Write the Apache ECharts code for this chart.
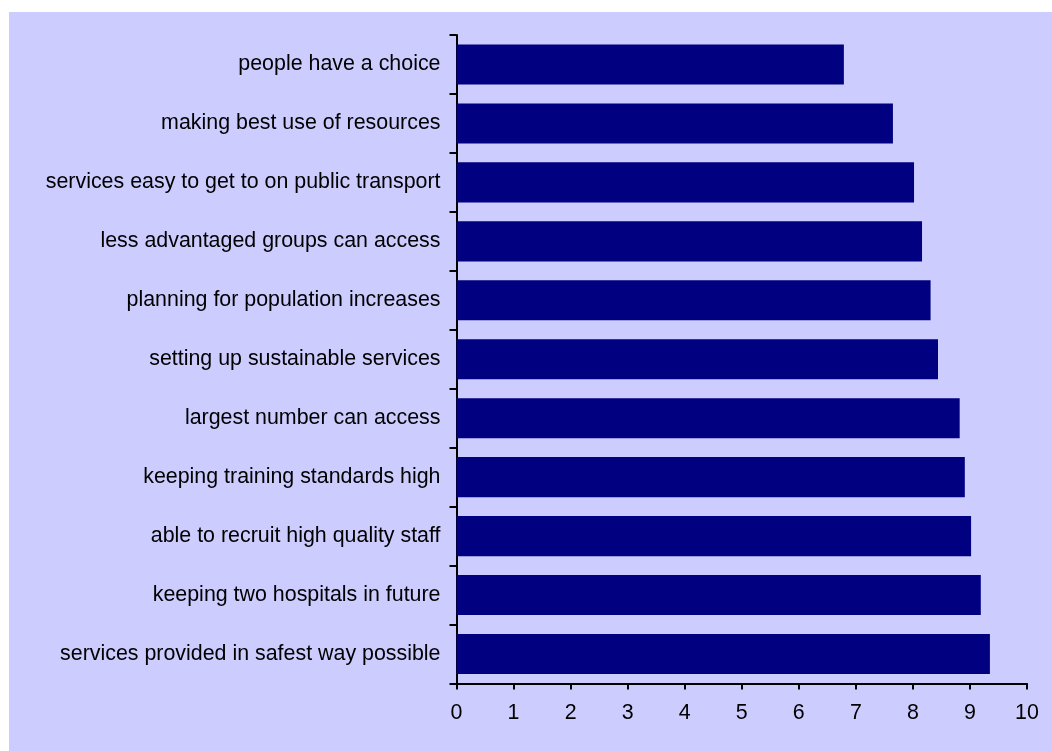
<!DOCTYPE html>
<html>
<head>
<meta charset="utf-8">
<script src="https://cdn.jsdelivr.net/npm/echarts@6/dist/echarts.min.js"></script>
<style>
  html, body { margin: 0; padding: 0; background: #ffffff; }
  #chart { position: absolute; left: 9px; top: 12px; width: 1043px; height: 739px; background: #ccccff; }
</style>
</head>
<body>
<div id="chart"></div>
<script>
// categories listed top to bottom as they appear
const categories = [
  'people have a choice',
  'making best use of resources',
  'services easy to get to on public transport',
  'less advantaged groups can access',
  'planning for population increases',
  'setting up sustainable services',
  'largest number can access',
  'keeping training standards high',
  'able to recruit high quality staff',
  'keeping two hospitals in future',
  'services provided in safest way possible'
];
const scores = [6.79, 7.65, 8.02, 8.16, 8.31, 8.44, 8.82, 8.91, 9.02, 9.19, 9.35];
const xTicks = { min: 0, max: 10, interval: 1 };

const chart = echarts.init(document.getElementById('chart'));
const font = '"Liberation Sans", Arial, sans-serif';

chart.setOption({
  backgroundColor: '#ccccff',
  animation: false,
  grid: { left: 447.5, top: 23, right: 25, bottom: 67.5, containLabel: false },
  xAxis: {
    type: 'value',
    min: xTicks.min,
    max: xTicks.max,
    interval: xTicks.interval,
    axisLine: { show: true, lineStyle: { color: '#000', width: 2 } },
    axisTick: { show: true, length: 6, lineStyle: { color: '#000', width: 2 } },
    splitLine: { show: false },
    axisLabel: { color: '#000', fontSize: 21.4, fontFamily: font, margin: 19 }
  },
  yAxis: {
    type: 'category',
    data: categories,
    inverse: true,
    axisLine: { show: true, lineStyle: { color: '#000', width: 2 } },
    axisTick: { show: true, length: 7, lineStyle: { color: '#000', width: 2 } },
    axisLabel: { color: '#000', fontSize: 21.4, fontFamily: font, margin: 16 }
  },
  series: [{
    type: 'bar',
    data: scores,
    barCategoryGap: '32%',
    itemStyle: { color: '#000080' }
  }]
});
</script>
</body>
</html>
